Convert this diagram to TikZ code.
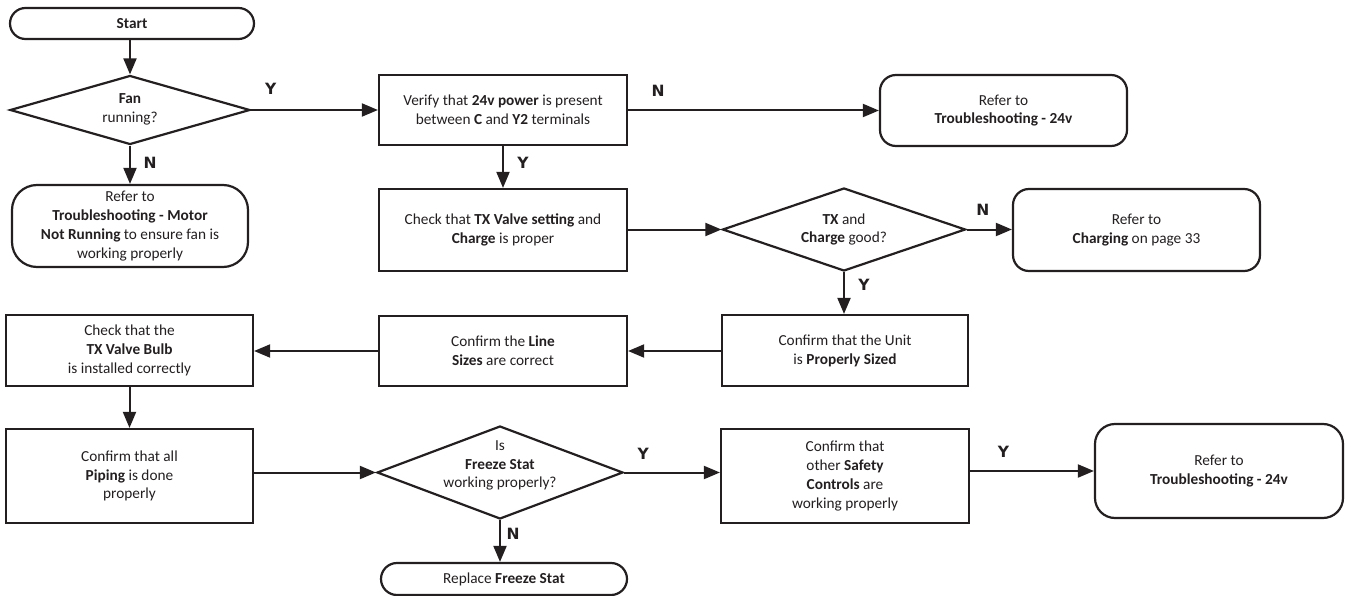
\documentclass[tikz,border=0pt]{standalone}
\usepackage{fontspec}
\setmainfont{Carlito}
\newfontfamily\lblfont{DejaVu Sans}
\usetikzlibrary{shapes.geometric,arrows.meta}
\definecolor{ink}{HTML}{231F20}
\begin{document}
\begin{tikzpicture}[x=1pt,y=-1pt,
  every node/.style={text=ink},
  base/.style={draw=ink, line width=2.2pt, align=center, inner sep=0pt,
     font=\fontsize{15.3}{18.8}\selectfont},
  procbox/.style={base, rectangle},
  termbox/.style={base, rectangle, rounded corners=16pt},
  decbox/.style={base, diamond},
  dectext/.style={align=center, inner sep=0pt, font=\fontsize{15.3}{18.8}\selectfont, text=ink},
  lbl/.style={font=\lblfont\bfseries\fontsize{15.5}{16}\selectfont, inner sep=0pt, text=ink},
  conn/.style={draw=ink, line width=2pt, -{Triangle[length=16pt,width=13pt]}},
  line/.style={draw=ink, line width=2pt}
]
\useasboundingbox (0,0) rectangle (1346,596);

\node[termbox, rounded corners=15.5pt, minimum width=244pt, minimum height=31pt] (start) at (132,23.5) {\textbf{Start}};
\node[decbox, minimum width=240pt, minimum height=69pt,
  label={[dectext, yshift=1pt]center:{\textbf{Fan}\\running?}}] (fan) at (130,110) {};
\node[termbox, rounded corners=25pt, minimum width=236pt, minimum height=82pt] (motor) at (130,226)
  {Refer to\\\textbf{Troubleshooting - Motor}\\\textbf{Not Running} to ensure fan is\\working properly};
\node[procbox, minimum width=248pt, minimum height=70pt] (verify) at (503,110)
  {Verify that \textbf{24v power} is present\\between \textbf{C} and \textbf{Y2} terminals};
\node[termbox, minimum width=247pt, minimum height=71pt] (rtop) at (1003.5,110.5)
  {Refer to\\\textbf{Troubleshooting - 24v}};
\node[procbox, minimum width=248pt, minimum height=82pt] (check) at (503,230)
  {Check that \textbf{TX Valve setting} and\\\textbf{Charge} is proper};
\node[decbox, minimum width=243pt, minimum height=83pt,
  label={[dectext]center:{\textbf{TX} and\\\textbf{Charge} good?}}] (tx) at (844,229.5) {};
\node[termbox, minimum width=247pt, minimum height=82pt] (charging) at (1136.5,230)
  {Refer to\\\textbf{Charging} on page 33};
\node[procbox, minimum width=246pt, minimum height=71pt] (unit) at (845,350.5)
  {Confirm that the Unit\\is \textbf{Properly Sized}};
\node[procbox, minimum width=248pt, minimum height=70pt] (lines) at (503,351)
  {Confirm the \textbf{Line}\\\textbf{Sizes} are correct};
\node[procbox, minimum width=247pt, minimum height=71pt] (bulb) at (129.5,350.5)
  {Check that the\\\textbf{TX Valve Bulb}\\is installed correctly};
\node[procbox, minimum width=247pt, minimum height=94pt] (piping) at (129.5,476)
  {Confirm that all\\\textbf{Piping} is done\\properly};
\node[decbox, minimum width=246pt, minimum height=93pt,
  label={[dectext, yshift=7pt]center:{Is\\\textbf{Freeze Stat}\\working properly?}}] (freeze) at (500,472.5) {};
\node[procbox, minimum width=248pt, minimum height=94pt] (safety) at (845,476)
  {Confirm that\\other \textbf{Safety}\\\textbf{Controls} are\\working properly};
\node[termbox, rounded corners=20pt, minimum width=248pt, minimum height=94pt] (rbot) at (1219,471)
  {Refer to\\\textbf{Troubleshooting - 24v}};
\node[termbox, rounded corners=16pt, minimum width=246pt, minimum height=32pt] (replace) at (504,579)
  {Replace \textbf{Freeze Stat}};

% connectors
\draw[conn] (start.south -| fan.north) -- (fan.north);
\draw[conn] (fan.east) -- node[lbl, pos=0.155, yshift=21pt]{Y} (fan.east -| verify.west);
\draw[conn] (fan.south) -- node[lbl, pos=0.45, xshift=20pt]{N} (motor.north -| fan.south);
\draw[conn] (verify.east |- rtop.west) -- node[lbl, pos=0.12, yshift=20pt]{N} (rtop.west);
\draw[conn] (verify.south) -- node[lbl, pos=0.4, xshift=20pt]{Y} (check.north);
\draw[conn] (check.east |- tx.west) -- (tx.west);
\draw[conn] (tx.east) -- node[lbl, pos=0.36, yshift=20pt]{N} (tx.east -| charging.west);
\draw[conn] (tx.south) -- node[lbl, pos=0.3, xshift=20pt]{Y} (tx.south |- unit.north);
\draw[conn] (unit.west |- lines.east) -- (lines.east);
\draw[conn] (lines.west) -- (lines.west -| bulb.east);
\draw[conn] (bulb.south) -- (piping.north);
\draw[conn] (freeze.west -| piping.east) -- (freeze.west);
\draw[conn] (freeze.east) -- node[lbl, pos=0.2, yshift=19pt]{Y} (freeze.east -| safety.west);
\draw[conn] (rbot.west -| safety.east) -- node[lbl, pos=0.27, yshift=19pt]{Y} (rbot.west);
\draw[conn] (freeze.south) -- node[lbl, pos=0.33, xshift=13pt]{N} (replace.north -| freeze.south);
\end{tikzpicture}
\end{document}
